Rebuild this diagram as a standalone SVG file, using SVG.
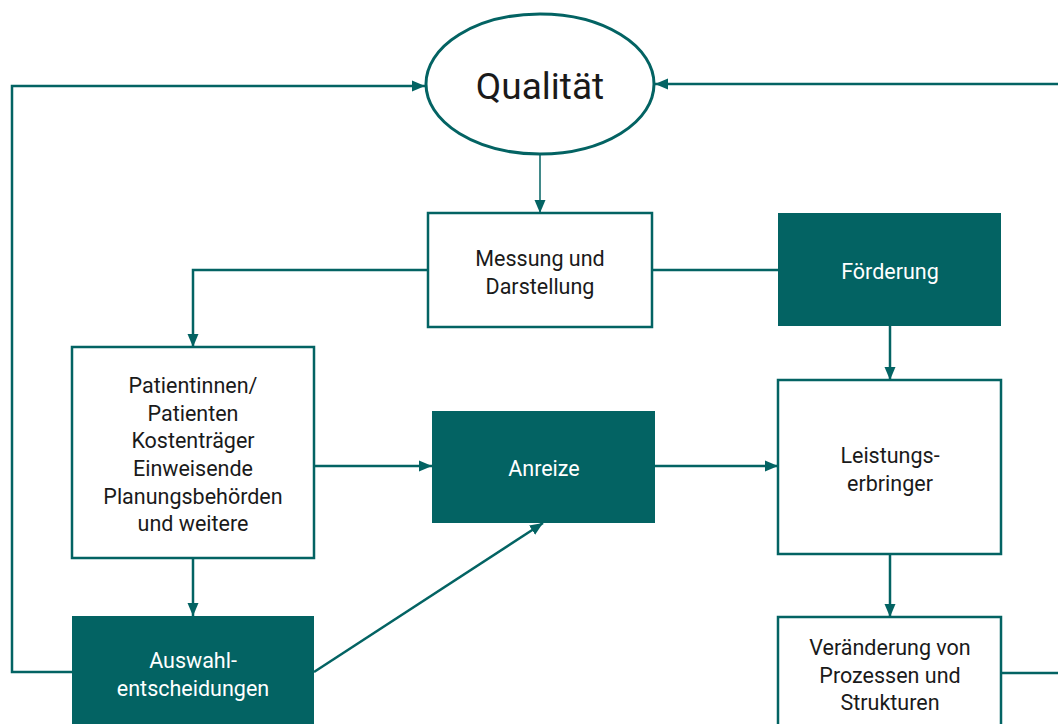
<svg xmlns="http://www.w3.org/2000/svg" width="1058" height="724" viewBox="0 0 1058 724">
<style>
.box{fill:#ffffff;stroke:#036363;stroke-width:2.5}
.fill{fill:#036363;stroke:none}
.ln{fill:none;stroke:#036363;stroke-width:2.5}
.thin{fill:none;stroke:#036363;stroke-width:1.5}
text{font-family:Roboto,"Liberation Sans",sans-serif;font-size:21.5px;text-anchor:middle;dominant-baseline:central}
.dk{fill:#1a1a1a}
.wh{fill:#ffffff}
</style>
<defs>
<marker id="ah" markerUnits="userSpaceOnUse" markerWidth="14" markerHeight="14" viewBox="0 0 14 14" refX="13" refY="7" orient="auto">
<path d="M0,1.5 L13,7 L0,12.5 Z" fill="#036363"/>
</marker>
</defs>
<rect width="1058" height="724" fill="#ffffff"/>
<g id="connectors">
<path class="thin" d="M540,154 V213" marker-end="url(#ah)"/>
<path class="ln" d="M652,270 H778"/>
<path class="ln" d="M428,270 H193 V347" marker-end="url(#ah)"/>
<path class="ln" d="M314,466 H432" marker-end="url(#ah)"/>
<path class="ln" d="M655,466 H778" marker-end="url(#ah)"/>
<path class="ln" d="M890,326 V380" marker-end="url(#ah)"/>
<path class="ln" d="M890,554 V617" marker-end="url(#ah)"/>
<path class="ln" d="M193,558 V616" marker-end="url(#ah)"/>
<path class="ln" d="M314,672 L543,523" marker-end="url(#ah)"/>
<path class="ln" d="M72,672 H12 V86 H425" marker-end="url(#ah)"/>
<path class="ln" d="M1058,84 H655" marker-end="url(#ah)"/>
<path class="ln" d="M1001,673 H1058"/>
</g>
<g id="qualitaet">
<ellipse cx="540" cy="84" rx="114" ry="70" fill="#ffffff" stroke="#036363" stroke-width="3"/>
<text class="dk" x="540" y="86" style="font-size:37px">Qualität</text>
</g>
<g id="messung">
<rect class="box" x="428" y="213" width="224" height="114"/>
<text class="dk" x="540" y="258">Messung und</text>
<text class="dk" x="540" y="286">Darstellung</text>
</g>
<g id="foerderung">
<rect class="fill" x="778" y="213" width="223" height="113"/>
<text class="wh" x="890" y="271">Förderung</text>
</g>
<g id="patienten">
<rect class="box" x="72" y="347" width="242" height="211"/>
<text class="dk" x="193" y="385">Patientinnen/</text>
<text class="dk" x="193" y="413">Patienten</text>
<text class="dk" x="193" y="440">Kostenträger</text>
<text class="dk" x="193" y="468">Einweisende</text>
<text class="dk" x="193" y="496">Planungsbehörden</text>
<text class="dk" x="193" y="523">und weitere</text>
</g>
<g id="anreize">
<rect class="fill" x="432" y="411" width="223" height="112"/>
<text class="wh" x="544" y="468">Anreize</text>
</g>
<g id="leistungserbringer">
<rect class="box" x="778" y="380" width="223" height="174"/>
<text class="dk" x="890" y="455">Leistungs-</text>
<text class="dk" x="890" y="483">erbringer</text>
</g>
<g id="auswahl">
<rect class="fill" x="72" y="616" width="242" height="120"/>
<text class="wh" x="193" y="660">Auswahl-</text>
<text class="wh" x="193" y="688">entscheidungen</text>
</g>
<g id="veraenderung">
<rect class="box" x="778" y="617" width="223" height="120"/>
<text class="dk" x="890" y="647">Veränderung von</text>
<text class="dk" x="890" y="675">Prozessen und</text>
<text class="dk" x="890" y="702">Strukturen</text>
</g>
</svg>
